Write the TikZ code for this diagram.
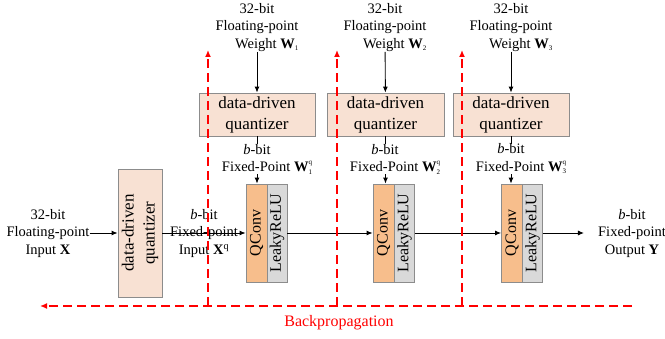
\documentclass[tikz,border=0pt]{standalone}
\usepackage{fontspec}
\setmainfont{Liberation Serif}
\usetikzlibrary{arrows.meta}
\definecolor{qfill}{HTML}{F8E1D3}
\definecolor{convfill}{HTML}{F7BE8C}
\definecolor{relufill}{HTML}{D9D9D9}
\definecolor{boxdraw}{HTML}{8C8C8C}
\newcommand{\tinyscr}{\fontsize{7}{7}\selectfont}
\newcommand{\Wsb}[1]{\textbf{W}\textsubscript{\tinyscr #1}}
\newcommand{\Wsq}[1]{\textbf{W}\raisebox{-2.5pt}{\tinyscr\shortstack[l]{q\\#1}}}
\tikzset{
  lbl/.style={font=\fontsize{14.5}{17.5}\selectfont, align=center, inner sep=0pt},
  qbox/.style={draw=boxdraw, fill=qfill, line width=0.8pt, minimum width=116pt, minimum height=43pt, inner sep=0pt, font=\fontsize{17}{21}\selectfont, align=center},
  vqbox/.style={draw=boxdraw, fill=qfill, line width=0.8pt, minimum width=44pt, minimum height=128pt, inner sep=0pt},
  convbox/.style={draw=boxdraw, fill=convfill, line width=0.8pt, minimum width=21pt, minimum height=98pt, inner sep=0pt},
  relubox/.style={draw=boxdraw, fill=relufill, line width=0.8pt, minimum width=20pt, minimum height=98pt, inner sep=0pt},
  rtext/.style={rotate=90, font=\fontsize{16}{20}\selectfont, inner sep=0pt, align=center},
  conn/.style={line width=0.9pt, -{Latex[length=6pt,width=5pt]}},
  bp/.style={red, line width=1.4pt, dash pattern=on 9pt off 5pt, -{Latex[length=7pt,width=6pt]}},
}
\begin{document}
\begin{tikzpicture}[x=1pt,y=-1pt]
\useasboundingbox (0,0) rectangle (665,339);

% weight quantizers
\node[qbox] (wq1) at (257,114.5) {data-driven\\quantizer};
\node[qbox, minimum width=117pt] (wq2) at (385.5,114.5) {data-driven\\quantizer};
\node[qbox] (wq3) at (511,114.5) {data-driven\\quantizer};

\node[lbl] (w1) at (257,27.5) {32-bit\\Floating-point\\\hspace*{20pt}Weight \Wsb{1}};
\node[lbl] (w2) at (385,27.5) {32-bit\\Floating-point\\\hspace*{20pt}Weight \Wsb{2}};
\node[lbl] (w3) at (511,27.5) {32-bit\\Floating-point\\\hspace*{20pt}Weight \Wsb{3}};
\draw[conn] (w1) -- (wq1);
\draw[conn] (w2) -- (wq2);
\draw[conn] (w3) -- (wq3);

% conv blocks
\node[convbox] (qc1) at (256.5,233) {};
\node[relubox] (lr1) at (277,233) {};
\node[convbox] (qc2) at (383.5,233) {};
\node[relubox] (lr2) at (404.5,233) {};
\node[convbox] (qc3) at (512,233) {};
\node[relubox] (lr3) at (532.5,233) {};
\foreach \i in {1,2,3}{
  \node[rtext] (qct\i) at (qc\i.center) {QConv};
  \node[rtext] (lrt\i) at (lr\i.center) {LeakyReLU};
}

\draw[conn] (wq1.south) -- (wq1.south |- qc1.north);
\draw[conn] (wq2.south) -- (wq2.south |- qc2.north);
\draw[conn] (wq3.south) -- (wq3.south |- qc3.north);
\node[lbl, fill=white] (f1) at (257,159) {\textit{b}-bit\\\hspace*{20pt}Fixed-Point \Wsq{1}};
\node[lbl, fill=white] (f2) at (385,159) {\textit{b}-bit\\\hspace*{20pt}Fixed-Point \Wsq{2}};
\node[lbl, fill=white] (f3) at (511,159) {\textit{b}-bit\\\hspace*{20pt}Fixed-Point \Wsq{3}};

% input quantizer
\node[vqbox] (lq) at (140,233) {};
\node[rtext, font=\fontsize{17}{21}\selectfont] (lqt) at (lq.center) {data-driven\\quantizer};

\node[lbl] (in) at (48,233.5) {32-bit\\Floating-point\\Input \textbf{X}};
\node[lbl] (xq) at (204,233.5) {\textit{b}-bit\\Fixed-point\\Input \textbf{X}\textsuperscript{q}};
\node[lbl, inner xsep=14pt] (out) at (632,233.5) {\textit{b}-bit\\Fixed-point\\Output \textbf{Y}};

\draw[conn] (in.east |- lq.west) -- (lq.west);
\draw[conn] (lq.east) -- (qc1.west);
\draw[conn] (lr1.east) -- (qc2.west);
\draw[conn] (lr2.east) -- (qc3.west);
\draw[conn] (lr3.east) -- (lr3.east -| out.west);

% backpropagation (drawn on top)
\coordinate (bpstart) at (632,306);
\coordinate (bpend) at (40,306);
\coordinate (v1b) at (208,306); \coordinate (v1t) at (208,50);
\coordinate (v2b) at (337,306); \coordinate (v2t) at (337,50);
\coordinate (v3b) at (462,306); \coordinate (v3t) at (462,50);
\draw[bp] (bpstart) -- (bpend);
\draw[bp] (v1b) -- (v1t);
\draw[bp] (v2b) -- (v2t);
\draw[bp] (v3b) -- (v3t);
\node[lbl, red, font=\fontsize{16}{19}\selectfont] (bplab) at (339,323) {Backpropagation};
\end{tikzpicture}
\end{document}
